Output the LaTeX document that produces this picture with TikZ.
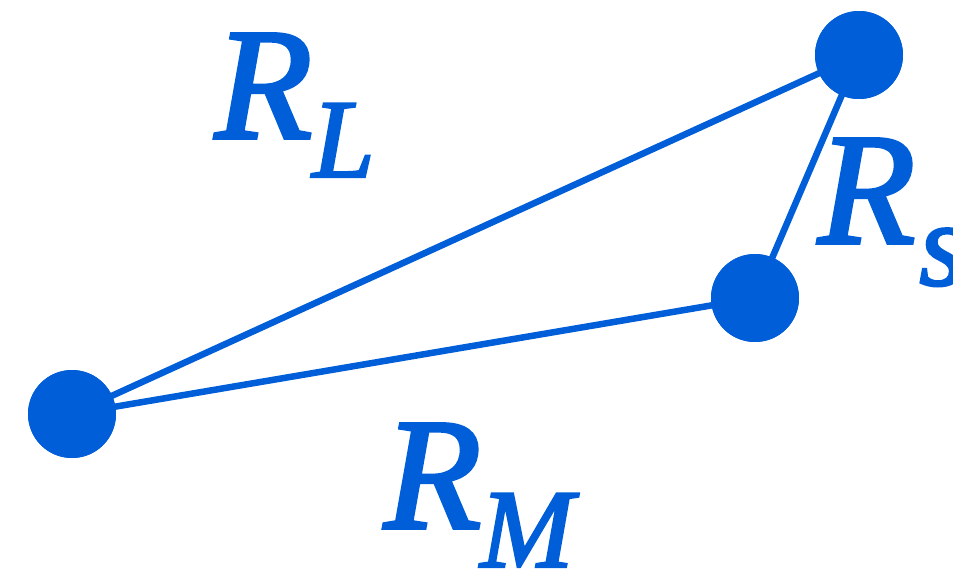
\documentclass[tikz,border=0pt]{standalone}
\usepackage{fontspec}
\setmainfont{Liberation Serif}
\newfontface\lblface[FakeBold=2.2]{Liberation Serif Italic}
\definecolor{dotblue}{RGB}{0,94,216}
\newcommand{\bigR}{\fontsize{159}{160}\lblface}
\newcommand{\subtxt}{\fontsize{112}{113}\lblface}
\begin{document}
\begin{tikzpicture}[x=1pt,y=-1pt,
  atom/.style={circle,fill=dotblue,minimum size=88pt,inner sep=0pt},
  bond/.style={draw=dotblue,line width=6.5pt},
  lbl/.style={anchor=base west,inner sep=0pt,text=dotblue}]
\useasboundingbox (0,0) rectangle (953,574);
\node[atom] (a) at (72,414) {};
\node[atom] (b) at (859,55) {};
\node[atom] (c) at (755,298) {};
\draw[bond] (a.center) -- (b.center);
\draw[bond] (a.center) -- (c.center);
\draw[bond] (c.center) -- (b.center);
\node[atom] at (a) {};
\node[atom] at (b) {};
\node[atom] at (c) {};
\node[lbl] (rl) at (215,138) {\bigR R\kern0pt\raisebox{-39pt}{\subtxt L}};
\node[lbl] (rm) at (384,528) {\bigR R\kern-1pt\raisebox{-39pt}{\subtxt M}};
\node[lbl] (rs) at (818,243) {\bigR R\kern4pt\raisebox{-42pt}{\fontsize{120}{121}\lblface s}};
\end{tikzpicture}
\end{document}
